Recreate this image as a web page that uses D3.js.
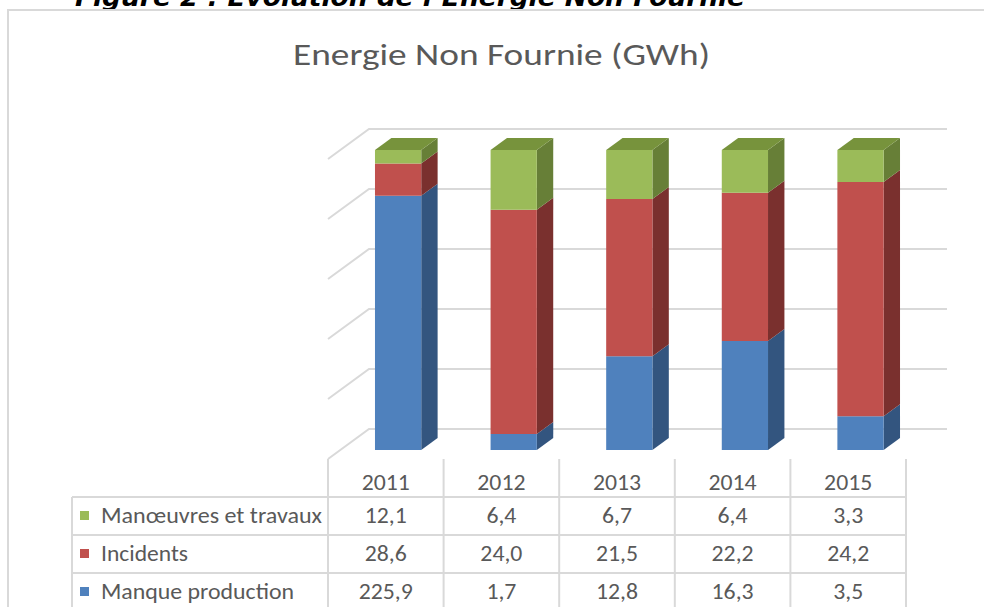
<!DOCTYPE html>
<html>
<head>
<meta charset="utf-8">
<script src="https://cdn.jsdelivr.net/npm/d3@7"></script>
<style>
  body { margin: 0; background: #fff; }
  text { font-family: Carlito, "Open Sans", sans-serif; fill: #595959; }
</style>
</head>
<body>
<svg id="chart" width="984" height="607"></svg>
<script>
// data (GWh)
const years = ["2011", "2012", "2013", "2014", "2015"];
const seriesNames = ["Manque production", "Incidents", "Manœuvres et travaux"];
const manqueProduction = [225.9, 1.7, 12.8, 16.3, 3.5];
const incidents = [28.6, 24.0, 21.5, 22.2, 24.2];
const manoeuvres = [12.1, 6.4, 6.7, 6.4, 3.3];
const gridTicks = [0, 0.2, 0.4, 0.6, 0.8, 1];

const front = { blue: "#4f81bd", red: "#c0504d", green: "#9bbb59" };
const side = { blue: "#33557f", red: "#7a302e", green: "#677f37" };
const topFace = "#77933c";
const colorKeys = ["blue", "red", "green"];

const rows = years.map((y, i) => ({
  year: y,
  "Manque production": manqueProduction[i],
  "Incidents": incidents[i],
  "Manœuvres et travaux": manoeuvres[i]
}));

const svg = d3.select("#chart");

// caption above the chart box (cut at the top of the page)
svg.append("text")
  .attr("x", 75).attr("y", 6)
  .attr("textLength", 670)
  .attr("lengthAdjust", "spacingAndGlyphs")
  .style("font-family", "'DejaVu Sans', sans-serif")
  .style("font-weight", "bold")
  .style("font-style", "italic")
  .style("font-size", "24px")
  .style("fill", "#000")
  .text("Figure 2 : Evolution de l’Energie Non Fournie");

// chart box
svg.append("rect")
  .attr("x", 8).attr("y", 10)
  .attr("width", 1000).attr("height", 620)
  .attr("fill", "none")
  .attr("stroke", "#d9d9d9")
  .attr("stroke-width", 2);

svg.append("text")
  .attr("x", 293).attr("y", 65)
  .attr("textLength", 417)
  .attr("lengthAdjust", "spacingAndGlyphs")
  .style("font-size", "30px")
  .text("Energie Non Fournie (GWh)");

// 3d plot frame
const x0 = 328, x1 = 906;
const depth = { dx: 41, dy: -30 };
const x = d3.scaleBand().domain(years).range([x0, x1]).paddingInner(0.6).paddingOuter(0.3);
const col = d3.scaleBand().domain(years).range([x0, x1]);
const y = d3.scaleLinear().domain([0, 1]).range([459, 159]);

const pt = (px, py, f) => [px + depth.dx * f, py + depth.dy * f];
const poly = pts => "M" + pts.map(p => p.join(",")).join("L") + "Z";

const grid = svg.append("g").attr("stroke", "#d9d9d9").attr("stroke-width", 2).attr("fill", "none");
gridTicks.forEach(t => {
  const a = pt(x0, y(t), 0), b = pt(x0, y(t), 1), c = pt(x1, y(t), 1);
  grid.append("path").attr("d", `M${a}L${b}L${c}`);
});

// stacked to 100%
const stack = d3.stack().keys(seriesNames).offset(d3.stackOffsetExpand);
const stacked = stack(rows);

const f0 = 0.3, f1 = 0.7;
const bars = svg.append("g");
years.forEach((yr, i) => {
  const xl = x(yr), xr = x(yr) + x.bandwidth();
  stacked.forEach((s, k) => {
    const lo = y(s[i][0]), hi = y(s[i][1]);
    const key = colorKeys[k];
    // side face
    bars.append("path")
      .attr("d", poly([pt(xr, lo, f0), pt(xr, lo, f1), pt(xr, hi, f1), pt(xr, hi, f0)]))
      .attr("fill", side[key]);
    // front face
    bars.append("path")
      .attr("d", poly([pt(xl, lo, f0), pt(xr, lo, f0), pt(xr, hi, f0), pt(xl, hi, f0)]))
      .attr("fill", front[key]);
    if (k === stacked.length - 1) {
      bars.append("path")
        .attr("d", poly([pt(xl, hi, f0), pt(xr, hi, f0), pt(xr, hi, f1), pt(xl, hi, f1)]))
        .attr("fill", topFace);
    }
  });
});

// data table
const tableLeft = 72;
const rowTops = [497, 535, 573, 611];
const tg = svg.append("g");
const line = (xa, ya, xb, yb) => tg.append("line")
  .attr("x1", xa).attr("y1", ya).attr("x2", xb).attr("y2", yb)
  .attr("stroke", "#d9d9d9").attr("stroke-width", 2);

rowTops.forEach(t => line(tableLeft, t, x1, t));
line(tableLeft, rowTops[0], tableLeft, 620);
years.forEach(yr => line(col(yr), 459, col(yr), 620));
line(x1, 459, x1, 620);

years.forEach(yr => {
  tg.append("text")
    .attr("x", col(yr) + col.bandwidth() / 2).attr("y", 490)
    .attr("text-anchor", "middle")
    .attr("transform", `translate(${col(yr) + col.bandwidth() / 2},0) scale(1.08,1) translate(${-(col(yr) + col.bandwidth() / 2)},0)`)
    .style("font-size", "22px")
    .text(yr);
});

const tableRows = [
  { name: "Manœuvres et travaux", width: 221, values: manoeuvres, color: front.green },
  { name: "Incidents", width: 87, values: incidents, color: front.red },
  { name: "Manque production", width: 193, values: manqueProduction, color: front.blue }
];
const fmt = v => d3.format(".1f")(v).replace(".", ",");

tableRows.forEach((r, j) => {
  const mid = (rowTops[j] + rowTops[j + 1]) / 2;
  tg.append("rect")
    .attr("x", 80).attr("y", mid - 5)
    .attr("width", 9).attr("height", 9)
    .attr("fill", r.color);
  tg.append("text")
    .attr("x", 101).attr("y", mid + 7)
    .attr("textLength", r.width)
    .attr("lengthAdjust", "spacingAndGlyphs")
    .style("font-size", "22px")
    .text(r.name);
  r.values.forEach((v, i) => {
    const cx = col(years[i]) + col.bandwidth() / 2;
    tg.append("text")
      .attr("x", cx).attr("y", mid + 7)
      .attr("text-anchor", "middle")
      .attr("transform", `translate(${cx},0) scale(1.08,1) translate(${-cx},0)`)
      .style("font-size", "22px")
      .text(fmt(v));
  });
});
</script>
</body>
</html>
